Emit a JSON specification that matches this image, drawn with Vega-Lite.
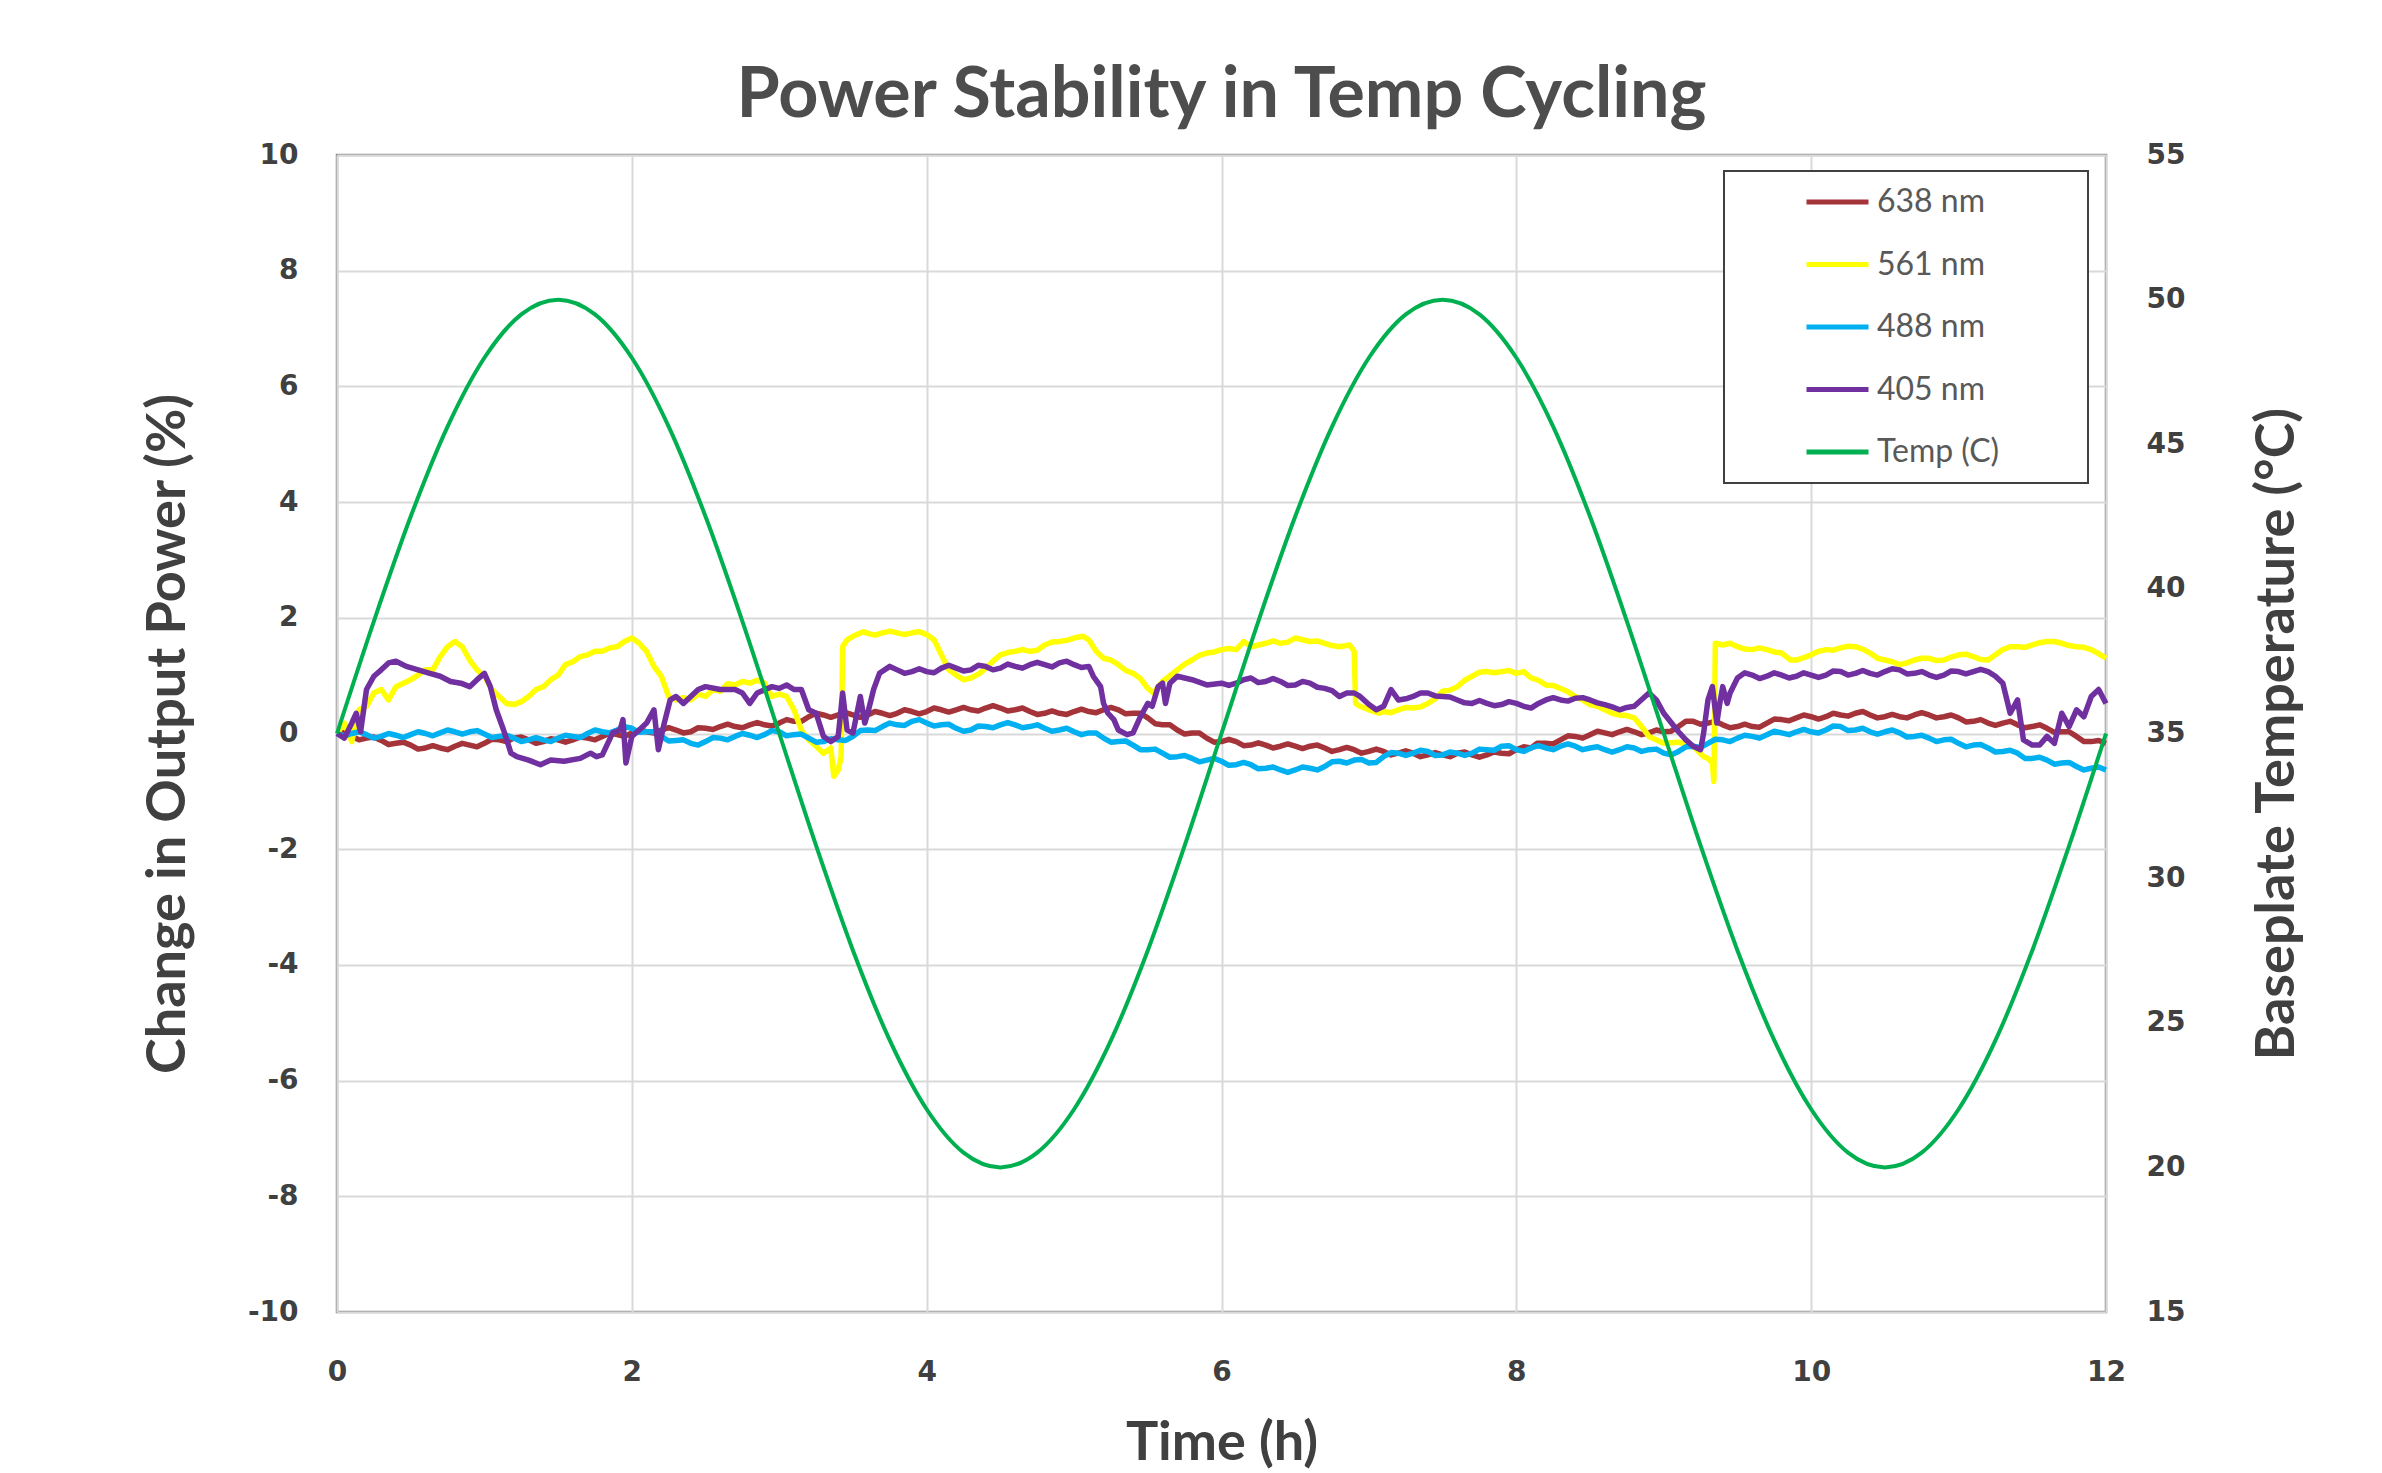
{
"$schema": "https://vega.github.io/schema/vega-lite/v6.json",
"width": 1769, "height": 1157,
"autosize": {"type": "none"},
"padding": {"left": 337, "top": 155, "right": 276, "bottom": 161},
"background": "white",
"title": {"text": "Power Stability in Temp Cycling", "font": "Lato", "fontSize": 70, "fontWeight": "bold", "color": "#4d4d4d", "anchor": "middle", "offset": 9},
"datasets": {
"r638": [{"t":0,"v":0},{"t":0.1,"v":-0.05},{"t":0.2,"v":-0.08},{"t":0.3,"v":-0.12},{"t":0.4,"v":-0.17},{"t":0.5,"v":-0.2},{"t":0.6,"v":-0.25},{"t":0.7,"v":-0.25},{"t":0.8,"v":-0.22},{"t":0.9,"v":-0.2},{"t":1,"v":-0.17},{"t":1.1,"v":-0.11},{"t":1.2,"v":-0.08},{"t":1.3,"v":-0.11},{"t":1.4,"v":-0.14},{"t":1.5,"v":-0.11},{"t":1.6,"v":-0.11},{"t":1.7,"v":-0.08},{"t":1.8,"v":-0.05},{"t":1.9,"v":-0.02},{"t":2,"v":0.01},{"t":2.1,"v":0.03},{"t":2.2,"v":0.06},{"t":2.3,"v":0.06},{"t":2.4,"v":0.03},{"t":2.5,"v":0.09},{"t":2.6,"v":0.12},{"t":2.7,"v":0.12},{"t":2.8,"v":0.15},{"t":2.9,"v":0.15},{"t":3,"v":0.18},{"t":3.1,"v":0.21},{"t":3.2,"v":0.29},{"t":3.3,"v":0.32},{"t":3.4,"v":0.32},{"t":3.5,"v":0.32},{"t":3.6,"v":0.32},{"t":3.7,"v":0.35},{"t":3.8,"v":0.35},{"t":3.9,"v":0.38},{"t":4,"v":0.38},{"t":4.1,"v":0.41},{"t":4.2,"v":0.41},{"t":4.3,"v":0.41},{"t":4.4,"v":0.44},{"t":4.5,"v":0.44},{"t":4.6,"v":0.41},{"t":4.7,"v":0.38},{"t":4.8,"v":0.35},{"t":4.9,"v":0.35},{"t":5,"v":0.38},{"t":5.1,"v":0.38},{"t":5.2,"v":0.41},{"t":5.3,"v":0.41},{"t":5.4,"v":0.35},{"t":5.5,"v":0.27},{"t":5.6,"v":0.15},{"t":5.7,"v":0.06},{"t":5.8,"v":0.01},{"t":5.9,"v":-0.08},{"t":6,"v":-0.14},{"t":6.1,"v":-0.14},{"t":6.2,"v":-0.2},{"t":6.3,"v":-0.2},{"t":6.4,"v":-0.22},{"t":6.5,"v":-0.22},{"t":6.6,"v":-0.22},{"t":6.7,"v":-0.25},{"t":6.8,"v":-0.28},{"t":6.9,"v":-0.28},{"t":7,"v":-0.31},{"t":7.1,"v":-0.31},{"t":7.2,"v":-0.34},{"t":7.3,"v":-0.34},{"t":7.4,"v":-0.37},{"t":7.5,"v":-0.37},{"t":7.6,"v":-0.34},{"t":7.7,"v":-0.37},{"t":7.8,"v":-0.37},{"t":7.9,"v":-0.34},{"t":8,"v":-0.28},{"t":8.1,"v":-0.25},{"t":8.14,"v":-0.17},{"t":8.2,"v":-0.17},{"t":8.3,"v":-0.11},{"t":8.4,"v":-0.05},{"t":8.5,"v":-0.02},{"t":8.6,"v":0.01},{"t":8.7,"v":0.03},{"t":8.8,"v":0.03},{"t":8.9,"v":0.01},{"t":9,"v":0.03},{"t":9.1,"v":0.12},{"t":9.2,"v":0.21},{"t":9.3,"v":0.18},{"t":9.4,"v":0.15},{"t":9.5,"v":0.12},{"t":9.6,"v":0.12},{"t":9.7,"v":0.18},{"t":9.8,"v":0.24},{"t":9.9,"v":0.27},{"t":10,"v":0.29},{"t":10.1,"v":0.29},{"t":10.2,"v":0.32},{"t":10.3,"v":0.35},{"t":10.4,"v":0.32},{"t":10.5,"v":0.29},{"t":10.6,"v":0.29},{"t":10.7,"v":0.32},{"t":10.8,"v":0.32},{"t":10.9,"v":0.29},{"t":11,"v":0.27},{"t":11.1,"v":0.21},{"t":11.2,"v":0.18},{"t":11.3,"v":0.18},{"t":11.4,"v":0.15},{"t":11.5,"v":0.12},{"t":11.6,"v":0.09},{"t":11.7,"v":0.03},{"t":11.8,"v":-0.05},{"t":11.9,"v":-0.14},{"t":12,"v":-0.17},
{"t":0.05,"v":0.02},{"t":0.15,"v":-0.11},{"t":0.25,"v":-0.06},{"t":0.35,"v":-0.19},{"t":0.45,"v":-0.15},{"t":0.55,"v":-0.27},{"t":0.65,"v":-0.21},{"t":0.75,"v":-0.28},{"t":0.85,"v":-0.17},{"t":0.95,"v":-0.23},{"t":1.05,"v":-0.1},{"t":1.15,"v":-0.14},{"t":1.25,"v":-0.06},{"t":1.35,"v":-0.17},{"t":1.45,"v":-0.09},{"t":1.55,"v":-0.15},{"t":1.65,"v":-0.06},{"t":1.75,"v":-0.11},{"t":1.85,"v":0.01},{"t":1.95,"v":-0.05},{"t":2.05,"v":0.06},{"t":2.15,"v":0.01},{"t":2.25,"v":0.1},{"t":2.35,"v":0.01},{"t":2.45,"v":0.1},{"t":2.55,"v":0.07},{"t":2.65,"v":0.16},{"t":2.75,"v":0.1},{"t":2.85,"v":0.19},{"t":2.95,"v":0.13},{"t":3.05,"v":0.24},{"t":3.15,"v":0.21},{"t":3.25,"v":0.35},{"t":3.35,"v":0.28},{"t":3.45,"v":0.36},{"t":3.55,"v":0.28},{"t":3.65,"v":0.38},{"t":3.75,"v":0.31},{"t":3.85,"v":0.41},{"t":3.95,"v":0.34},{"t":4.05,"v":0.44},{"t":4.15,"v":0.37},{"t":4.25,"v":0.45},{"t":4.35,"v":0.39},{"t":4.45,"v":0.48},{"t":4.55,"v":0.39},{"t":4.65,"v":0.44},{"t":4.75,"v":0.33},{"t":4.85,"v":0.39},{"t":4.95,"v":0.33},{"t":5.05,"v":0.42},{"t":5.15,"v":0.36},{"t":5.25,"v":0.45},{"t":5.35,"v":0.34},{"t":5.45,"v":0.35},{"t":5.55,"v":0.17},{"t":5.65,"v":0.15},{"t":5.75,"v":-0.01},{"t":5.85,"v":0.01},{"t":5.95,"v":-0.15},{"t":6.05,"v":-0.1},{"t":6.15,"v":-0.21},{"t":6.25,"v":-0.16},{"t":6.35,"v":-0.25},{"t":6.45,"v":-0.18},{"t":6.55,"v":-0.26},{"t":6.65,"v":-0.2},{"t":6.75,"v":-0.31},{"t":6.85,"v":-0.24},{"t":6.95,"v":-0.34},{"t":7.05,"v":-0.27},{"t":7.15,"v":-0.37},{"t":7.25,"v":-0.3},{"t":7.35,"v":-0.4},{"t":7.45,"v":-0.33},{"t":7.55,"v":-0.4},{"t":7.65,"v":-0.32},{"t":7.75,"v":-0.41},{"t":7.85,"v":-0.32},{"t":7.95,"v":-0.35},{"t":8.05,"v":-0.23},{"t":8.25,"v":-0.18},{"t":8.35,"v":-0.04},{"t":8.45,"v":-0.08},{"t":8.55,"v":0.04},{"t":8.65,"v":-0.02},{"t":8.75,"v":0.07},{"t":8.85,"v":-0.02},{"t":8.95,"v":0.06},{"t":9.05,"v":0.04},{"t":9.15,"v":0.21},{"t":9.25,"v":0.16},{"t":9.35,"v":0.21},{"t":9.45,"v":0.1},{"t":9.55,"v":0.16},{"t":9.65,"v":0.11},{"t":9.75,"v":0.25},{"t":9.85,"v":0.22},{"t":9.95,"v":0.32},{"t":10.05,"v":0.25},{"t":10.15,"v":0.35},{"t":10.25,"v":0.3},{"t":10.35,"v":0.38},{"t":10.45,"v":0.27},{"t":10.55,"v":0.33},{"t":10.65,"v":0.27},{"t":10.75,"v":0.36},{"t":10.85,"v":0.27},{"t":10.95,"v":0.32},{"t":11.05,"v":0.2},{"t":11.15,"v":0.24},{"t":11.25,"v":0.14},{"t":11.35,"v":0.21},{"t":11.45,"v":0.1},{"t":11.55,"v":0.15},{"t":11.65,"v":0.02},{"t":11.75,"v":0.03},{"t":11.85,"v":-0.14},{"t":11.95,"v":-0.12}],
"y561": [{"t":0,"v":0},{"t":0.05,"v":0.18},{"t":0.1,"v":-0.14},{"t":0.15,"v":0.41},{"t":0.2,"v":0.47},{"t":0.25,"v":0.7},{"t":0.3,"v":0.76},{"t":0.35,"v":0.58},{"t":0.4,"v":0.81},{"t":0.45,"v":0.87},{"t":0.5,"v":0.93},{"t":0.55,"v":1.01},{"t":0.6,"v":1.1},{"t":0.65,"v":1.1},{"t":0.7,"v":1.33},{"t":0.75,"v":1.5},{"t":0.8,"v":1.59},{"t":0.85,"v":1.5},{"t":0.9,"v":1.27},{"t":0.95,"v":1.1},{"t":1,"v":0.99},{"t":1.05,"v":0.76},{"t":1.1,"v":0.64},{"t":1.15,"v":0.52},{"t":1.2,"v":0.5},{"t":1.25,"v":0.55},{"t":1.3,"v":0.64},{"t":1.35,"v":0.76},{"t":1.4,"v":0.81},{"t":1.45,"v":0.93},{"t":1.5,"v":1.01},{"t":1.55,"v":1.19},{"t":1.6,"v":1.24},{"t":1.65,"v":1.33},{"t":1.7,"v":1.36},{"t":1.75,"v":1.42},{"t":1.8,"v":1.42},{"t":1.85,"v":1.48},{"t":1.9,"v":1.5},{"t":1.95,"v":1.59},{"t":2,"v":1.65},{"t":2.05,"v":1.56},{"t":2.1,"v":1.42},{"t":2.15,"v":1.16},{"t":2.2,"v":0.99},{"t":2.25,"v":0.64},{"t":2.3,"v":0.58},{"t":2.35,"v":0.62},{"t":2.4,"v":0.58},{"t":2.45,"v":0.68},{"t":2.5,"v":0.64},{"t":2.55,"v":0.76},{"t":2.6,"v":0.73},{"t":2.65,"v":0.86},{"t":2.7,"v":0.84},{"t":2.75,"v":0.9},{"t":2.8,"v":0.87},{"t":2.85,"v":0.92},{"t":2.9,"v":0.87},{"t":2.95,"v":0.64},{"t":3,"v":0.68},{"t":3.05,"v":0.64},{"t":3.1,"v":0.41},{"t":3.15,"v":0.06},{"t":3.2,"v":-0.11},{"t":3.25,"v":-0.22},{"t":3.3,"v":-0.34},{"t":3.35,"v":-0.25},{"t":3.37,"v":-0.74},{"t":3.4,"v":-0.63},{"t":3.42,"v":-0.4},{"t":3.43,"v":1.5},{"t":3.46,"v":1.62},{"t":3.5,"v":1.68},{"t":3.57,"v":1.76},{"t":3.6,"v":1.73},{"t":3.65,"v":1.7},{"t":3.7,"v":1.74},{"t":3.75,"v":1.77},{"t":3.8,"v":1.74},{"t":3.85,"v":1.71},{"t":3.9,"v":1.74},{"t":3.95,"v":1.76},{"t":4,"v":1.71},{"t":4.05,"v":1.62},{"t":4.1,"v":1.36},{"t":4.15,"v":1.1},{"t":4.2,"v":1.01},{"t":4.25,"v":0.93},{"t":4.3,"v":0.96},{"t":4.36,"v":1.04},{"t":4.4,"v":1.13},{"t":4.45,"v":1.25},{"t":4.5,"v":1.36},{"t":4.55,"v":1.4},{"t":4.6,"v":1.42},{"t":4.65,"v":1.45},{"t":4.7,"v":1.42},{"t":4.75,"v":1.44},{"t":4.8,"v":1.53},{"t":4.85,"v":1.58},{"t":4.9,"v":1.59},{"t":4.95,"v":1.61},{"t":5,"v":1.65},{"t":5.06,"v":1.68},{"t":5.1,"v":1.62},{"t":5.15,"v":1.42},{"t":5.2,"v":1.3},{"t":5.25,"v":1.27},{"t":5.3,"v":1.19},{"t":5.35,"v":1.09},{"t":5.4,"v":1.04},{"t":5.45,"v":0.95},{"t":5.5,"v":0.78},{"t":5.54,"v":0.7},{"t":5.6,"v":0.9},{"t":5.65,"v":1.0},{"t":5.7,"v":1.1},{"t":5.75,"v":1.2},{"t":5.8,"v":1.27},{"t":5.85,"v":1.35},{"t":5.9,"v":1.39},{"t":5.95,"v":1.41},{"t":6,"v":1.45},{"t":6.05,"v":1.47},{"t":6.1,"v":1.45},{"t":6.15,"v":1.59},{"t":6.2,"v":1.5},{"t":6.25,"v":1.53},{"t":6.3,"v":1.56},{"t":6.35,"v":1.6},{"t":6.4,"v":1.56},{"t":6.45,"v":1.58},{"t":6.5,"v":1.65},{"t":6.55,"v":1.62},{"t":6.6,"v":1.59},{"t":6.65,"v":1.6},{"t":6.7,"v":1.56},{"t":6.75,"v":1.52},{"t":6.8,"v":1.5},{"t":6.87,"v":1.53},{"t":6.9,"v":1.42},{"t":6.91,"v":0.52},{"t":6.94,"v":0.47},{"t":7,"v":0.41},{"t":7.07,"v":0.35},{"t":7.1,"v":0.38},{"t":7.15,"v":0.36},{"t":7.2,"v":0.41},{"t":7.25,"v":0.45},{"t":7.3,"v":0.44},{"t":7.35,"v":0.46},{"t":7.4,"v":0.52},{"t":7.45,"v":0.6},{"t":7.5,"v":0.73},{"t":7.55,"v":0.75},{"t":7.6,"v":0.81},{"t":7.65,"v":0.92},{"t":7.7,"v":0.99},{"t":7.75,"v":1.06},{"t":7.8,"v":1.07},{"t":7.85,"v":1.05},{"t":7.9,"v":1.07},{"t":7.95,"v":1.09},{"t":8,"v":1.04},{"t":8.05,"v":1.07},{"t":8.1,"v":0.96},{"t":8.15,"v":0.92},{"t":8.2,"v":0.84},{"t":8.25,"v":0.83},{"t":8.3,"v":0.78},{"t":8.35,"v":0.72},{"t":8.4,"v":0.64},{"t":8.45,"v":0.58},{"t":8.5,"v":0.5},{"t":8.55,"v":0.47},{"t":8.6,"v":0.41},{"t":8.65,"v":0.35},{"t":8.7,"v":0.32},{"t":8.75,"v":0.31},{"t":8.8,"v":0.27},{"t":8.85,"v":0.12},{"t":8.9,"v":-0.05},{"t":9,"v":-0.17},{"t":9.1,"v":-0.15},{"t":9.2,"v":-0.22},{"t":9.27,"v":-0.4},{"t":9.3,"v":-0.43},{"t":9.33,"v":-0.51},{"t":9.34,"v":-0.83},{"t":9.35,"v":1.56},{"t":9.4,"v":1.53},{"t":9.45,"v":1.56},{"t":9.5,"v":1.5},{"t":9.55,"v":1.46},{"t":9.6,"v":1.45},{"t":9.65,"v":1.48},{"t":9.7,"v":1.45},{"t":9.75,"v":1.41},{"t":9.8,"v":1.39},{"t":9.86,"v":1.27},{"t":9.9,"v":1.27},{"t":9.95,"v":1.31},{"t":10,"v":1.36},{"t":10.05,"v":1.42},{"t":10.1,"v":1.45},{"t":10.15,"v":1.44},{"t":10.2,"v":1.48},{"t":10.25,"v":1.51},{"t":10.3,"v":1.5},{"t":10.35,"v":1.46},{"t":10.4,"v":1.39},{"t":10.45,"v":1.3},{"t":10.5,"v":1.27},{"t":10.55,"v":1.24},{"t":10.6,"v":1.19},{"t":10.65,"v":1.22},{"t":10.7,"v":1.27},{"t":10.75,"v":1.3},{"t":10.8,"v":1.3},{"t":10.85,"v":1.26},{"t":10.9,"v":1.27},{"t":10.95,"v":1.32},{"t":11,"v":1.36},{"t":11.05,"v":1.37},{"t":11.1,"v":1.33},{"t":11.15,"v":1.28},{"t":11.2,"v":1.27},{"t":11.25,"v":1.36},{"t":11.3,"v":1.45},{"t":11.35,"v":1.5},{"t":11.4,"v":1.5},{"t":11.45,"v":1.49},{"t":11.5,"v":1.53},{"t":11.55,"v":1.57},{"t":11.6,"v":1.59},{"t":11.65,"v":1.59},{"t":11.7,"v":1.56},{"t":11.75,"v":1.52},{"t":11.8,"v":1.5},{"t":11.85,"v":1.49},{"t":11.9,"v":1.45},{"t":11.95,"v":1.38},{"t":12,"v":1.3}],
"b488": [{"t":0,"v":0},{"t":0.1,"v":0},{"t":0.2,"v":-0.02},{"t":0.3,"v":-0.05},{"t":0.4,"v":-0.03},{"t":0.5,"v":-0.02},{"t":0.6,"v":0},{"t":0.7,"v":0.01},{"t":0.8,"v":0.03},{"t":0.9,"v":0.03},{"t":1,"v":-0.01},{"t":1.1,"v":-0.05},{"t":1.2,"v":-0.08},{"t":1.3,"v":-0.11},{"t":1.4,"v":-0.11},{"t":1.5,"v":-0.08},{"t":1.6,"v":-0.05},{"t":1.7,"v":0},{"t":1.8,"v":0.03},{"t":1.9,"v":0.06},{"t":2,"v":0.09},{"t":2.1,"v":0.03},{"t":2.2,"v":-0.05},{"t":2.3,"v":-0.12},{"t":2.4,"v":-0.17},{"t":2.5,"v":-0.14},{"t":2.6,"v":-0.08},{"t":2.7,"v":-0.05},{"t":2.8,"v":-0.03},{"t":2.9,"v":-0.02},{"t":3,"v":0.03},{"t":3.1,"v":-0.02},{"t":3.2,"v":-0.08},{"t":3.3,"v":-0.14},{"t":3.4,"v":-0.11},{"t":3.5,"v":-0.05},{"t":3.6,"v":0.06},{"t":3.7,"v":0.12},{"t":3.8,"v":0.15},{"t":3.9,"v":0.21},{"t":4,"v":0.18},{"t":4.1,"v":0.15},{"t":4.2,"v":0.09},{"t":4.3,"v":0.06},{"t":4.4,"v":0.12},{"t":4.5,"v":0.15},{"t":4.6,"v":0.15},{"t":4.7,"v":0.12},{"t":4.8,"v":0.09},{"t":4.9,"v":0.06},{"t":5,"v":0.03},{"t":5.1,"v":0.01},{"t":5.2,"v":-0.08},{"t":5.3,"v":-0.14},{"t":5.4,"v":-0.2},{"t":5.5,"v":-0.28},{"t":5.6,"v":-0.34},{"t":5.7,"v":-0.4},{"t":5.8,"v":-0.43},{"t":5.9,"v":-0.46},{"t":6,"v":-0.48},{"t":6.1,"v":-0.54},{"t":6.2,"v":-0.54},{"t":6.3,"v":-0.6},{"t":6.4,"v":-0.63},{"t":6.5,"v":-0.63},{"t":6.6,"v":-0.6},{"t":6.7,"v":-0.57},{"t":6.8,"v":-0.48},{"t":6.9,"v":-0.46},{"t":7,"v":-0.51},{"t":7.1,"v":-0.4},{"t":7.2,"v":-0.34},{"t":7.3,"v":-0.34},{"t":7.4,"v":-0.31},{"t":7.5,"v":-0.37},{"t":7.6,"v":-0.34},{"t":7.7,"v":-0.34},{"t":7.8,"v":-0.28},{"t":7.9,"v":-0.22},{"t":8,"v":-0.28},{"t":8.1,"v":-0.25},{"t":8.2,"v":-0.25},{"t":8.3,"v":-0.22},{"t":8.4,"v":-0.22},{"t":8.5,"v":-0.25},{"t":8.6,"v":-0.28},{"t":8.7,"v":-0.28},{"t":8.8,"v":-0.25},{"t":8.9,"v":-0.28},{"t":9,"v":-0.34},{"t":9.1,"v":-0.31},{"t":9.2,"v":-0.22},{"t":9.3,"v":-0.17},{"t":9.4,"v":-0.11},{"t":9.5,"v":-0.08},{"t":9.6,"v":-0.05},{"t":9.7,"v":-0.02},{"t":9.8,"v":0.01},{"t":9.9,"v":0.03},{"t":10,"v":0.03},{"t":10.1,"v":0.06},{"t":10.2,"v":0.12},{"t":10.3,"v":0.06},{"t":10.4,"v":0.03},{"t":10.5,"v":0.03},{"t":10.6,"v":0.01},{"t":10.7,"v":-0.05},{"t":10.8,"v":-0.08},{"t":10.9,"v":-0.11},{"t":11,"v":-0.17},{"t":11.1,"v":-0.2},{"t":11.2,"v":-0.25},{"t":11.3,"v":-0.31},{"t":11.4,"v":-0.34},{"t":11.5,"v":-0.43},{"t":11.6,"v":-0.46},{"t":11.7,"v":-0.51},{"t":11.8,"v":-0.57},{"t":11.9,"v":-0.6},{"t":12,"v":-0.63},
{"t":0.05,"v":-0.04},{"t":0.15,"v":0.03},{"t":0.25,"v":-0.08},{"t":0.35,"v":0},{"t":0.45,"v":-0.07},{"t":0.55,"v":0.03},{"t":0.65,"v":-0.04},{"t":0.75,"v":0.06},{"t":0.85,"v":-0.01},{"t":0.95,"v":0.05},{"t":1.05,"v":-0.07},{"t":1.15,"v":-0.03},{"t":1.25,"v":-0.14},{"t":1.35,"v":-0.07},{"t":1.45,"v":-0.14},{"t":1.55,"v":-0.03},{"t":1.65,"v":-0.07},{"t":1.75,"v":0.06},{"t":1.85,"v":0.01},{"t":1.95,"v":0.12},{"t":2.05,"v":0.02},{"t":2.15,"v":0.03},{"t":2.25,"v":-0.13},{"t":2.35,"v":-0.11},{"t":2.45,"v":-0.2},{"t":2.55,"v":-0.07},{"t":2.65,"v":-0.11},{"t":2.75,"v":0},{"t":2.85,"v":-0.07},{"t":2.95,"v":0.05},{"t":3.05,"v":-0.04},{"t":3.15,"v":-0.01},{"t":3.25,"v":-0.15},{"t":3.35,"v":-0.09},{"t":3.45,"v":-0.12},{"t":3.55,"v":0.05},{"t":3.65,"v":0.05},{"t":3.75,"v":0.18},{"t":3.85,"v":0.14},{"t":3.95,"v":0.24},{"t":4.05,"v":0.13},{"t":4.15,"v":0.16},{"t":4.25,"v":0.04},{"t":4.35,"v":0.13},{"t":4.45,"v":0.1},{"t":4.55,"v":0.19},{"t":4.65,"v":0.1},{"t":4.75,"v":0.15},{"t":4.85,"v":0.04},{"t":4.95,"v":0.09},{"t":5.05,"v":-0.02},{"t":5.15,"v":0.01},{"t":5.25,"v":-0.15},{"t":5.35,"v":-0.13},{"t":5.45,"v":-0.28},{"t":5.55,"v":-0.27},{"t":5.65,"v":-0.41},{"t":5.75,"v":-0.38},{"t":5.85,"v":-0.49},{"t":5.95,"v":-0.43},{"t":6.05,"v":-0.55},{"t":6.15,"v":-0.5},{"t":6.25,"v":-0.61},{"t":6.35,"v":-0.58},{"t":6.45,"v":-0.67},{"t":6.55,"v":-0.58},{"t":6.65,"v":-0.63},{"t":6.75,"v":-0.49},{"t":6.85,"v":-0.51},{"t":6.95,"v":-0.45},{"t":7.05,"v":-0.5},{"t":7.15,"v":-0.33},{"t":7.25,"v":-0.38},{"t":7.35,"v":-0.29},{"t":7.45,"v":-0.38},{"t":7.55,"v":-0.32},{"t":7.65,"v":-0.38},{"t":7.75,"v":-0.27},{"t":7.85,"v":-0.29},{"t":7.95,"v":-0.21},{"t":8.05,"v":-0.31},{"t":8.15,"v":-0.21},{"t":8.25,"v":-0.28},{"t":8.35,"v":-0.18},{"t":8.45,"v":-0.28},{"t":8.55,"v":-0.23},{"t":8.65,"v":-0.32},{"t":8.75,"v":-0.23},{"t":8.85,"v":-0.31},{"t":8.95,"v":-0.27},{"t":9.05,"v":-0.37},{"t":9.15,"v":-0.23},{"t":9.25,"v":-0.24},{"t":9.35,"v":-0.1},{"t":9.45,"v":-0.14},{"t":9.55,"v":-0.03},{"t":9.65,"v":-0.08},{"t":9.75,"v":0.04},{"t":9.85,"v":-0.02},{"t":9.95,"v":0.07},{"t":10.05,"v":0.01},{"t":10.15,"v":0.13},{"t":10.25,"v":0.05},{"t":10.35,"v":0.09},{"t":10.45,"v":-0.01},{"t":10.55,"v":0.06},{"t":10.65,"v":-0.06},{"t":10.75,"v":-0.03},{"t":10.85,"v":-0.14},{"t":10.95,"v":-0.1},{"t":11.05,"v":-0.23},{"t":11.15,"v":-0.19},{"t":11.25,"v":-0.32},{"t":11.35,"v":-0.29},{"t":11.45,"v":-0.43},{"t":11.55,"v":-0.41},{"t":11.65,"v":-0.53},{"t":11.75,"v":-0.5},{"t":11.85,"v":-0.63},{"t":11.95,"v":-0.58}],
"p405": [{"t":0,"v":0},{"t":0.05,"v":-0.08},{"t":0.1,"v":0.18},{"t":0.13,"v":0.35},{"t":0.16,"v":0.03},{"t":0.2,"v":0.76},{"t":0.25,"v":0.99},{"t":0.3,"v":1.1},{"t":0.35,"v":1.22},{"t":0.4,"v":1.25},{"t":0.47,"v":1.16},{"t":0.55,"v":1.1},{"t":0.63,"v":1.04},{"t":0.7,"v":0.99},{"t":0.77,"v":0.9},{"t":0.84,"v":0.87},{"t":0.9,"v":0.81},{"t":0.95,"v":0.93},{"t":1,"v":1.04},{"t":1.04,"v":0.81},{"t":1.08,"v":0.41},{"t":1.13,"v":0.06},{"t":1.18,"v":-0.34},{"t":1.22,"v":-0.4},{"t":1.3,"v":-0.46},{"t":1.38,"v":-0.54},{"t":1.45,"v":-0.46},{"t":1.54,"v":-0.48},{"t":1.65,"v":-0.43},{"t":1.72,"v":-0.34},{"t":1.76,"v":-0.4},{"t":1.8,"v":-0.37},{"t":1.87,"v":0.01},{"t":1.92,"v":0.06},{"t":1.94,"v":0.24},{"t":1.96,"v":-0.51},{"t":2,"v":-0.05},{"t":2.05,"v":0.06},{"t":2.1,"v":0.18},{"t":2.15,"v":0.41},{"t":2.18,"v":-0.28},{"t":2.22,"v":0.18},{"t":2.26,"v":0.58},{"t":2.3,"v":0.64},{"t":2.35,"v":0.52},{"t":2.4,"v":0.64},{"t":2.45,"v":0.76},{"t":2.5,"v":0.81},{"t":2.6,"v":0.76},{"t":2.7,"v":0.76},{"t":2.75,"v":0.7},{"t":2.8,"v":0.52},{"t":2.85,"v":0.7},{"t":2.95,"v":0.81},{"t":3,"v":0.78},{"t":3.05,"v":0.84},{"t":3.1,"v":0.76},{"t":3.15,"v":0.76},{"t":3.2,"v":0.41},{"t":3.25,"v":0.35},{"t":3.3,"v":-0.05},{"t":3.35,"v":-0.14},{"t":3.4,"v":-0.05},{"t":3.43,"v":0.7},{"t":3.46,"v":0.06},{"t":3.5,"v":0.01},{"t":3.55,"v":0.64},{"t":3.58,"v":0.18},{"t":3.6,"v":0.35},{"t":3.64,"v":0.76},{"t":3.68,"v":1.04},{"t":3.75,"v":1.16},{"t":3.8,"v":1.1},{"t":3.85,"v":1.04},{"t":3.9,"v":1.07},{"t":3.95,"v":1.12},{"t":4,"v":1.07},{"t":4.05,"v":1.05},{"t":4.1,"v":1.13},{"t":4.15,"v":1.18},{"t":4.2,"v":1.13},{"t":4.25,"v":1.08},{"t":4.3,"v":1.1},{"t":4.35,"v":1.18},{"t":4.4,"v":1.16},{"t":4.45,"v":1.1},{"t":4.5,"v":1.13},{"t":4.55,"v":1.2},{"t":4.6,"v":1.16},{"t":4.65,"v":1.13},{"t":4.7,"v":1.19},{"t":4.75,"v":1.23},{"t":4.8,"v":1.19},{"t":4.85,"v":1.15},{"t":4.9,"v":1.22},{"t":4.95,"v":1.25},{"t":5,"v":1.19},{"t":5.05,"v":1.14},{"t":5.1,"v":1.16},{"t":5.13,"v":0.99},{"t":5.18,"v":0.81},{"t":5.2,"v":0.52},{"t":5.23,"v":0.35},{"t":5.27,"v":0.24},{"t":5.3,"v":0.06},{"t":5.36,"v":-0.02},{"t":5.4,"v":0.01},{"t":5.45,"v":0.29},{"t":5.5,"v":0.52},{"t":5.53,"v":0.47},{"t":5.57,"v":0.81},{"t":5.6,"v":0.87},{"t":5.62,"v":0.52},{"t":5.65,"v":0.87},{"t":5.7,"v":0.99},{"t":5.8,"v":0.93},{"t":5.9,"v":0.84},{"t":6,"v":0.87},{"t":6.05,"v":0.83},{"t":6.1,"v":0.87},{"t":6.15,"v":0.93},{"t":6.2,"v":0.96},{"t":6.25,"v":0.88},{"t":6.3,"v":0.9},{"t":6.35,"v":0.95},{"t":6.4,"v":0.9},{"t":6.45,"v":0.83},{"t":6.5,"v":0.84},{"t":6.55,"v":0.9},{"t":6.6,"v":0.87},{"t":6.65,"v":0.8},{"t":6.7,"v":0.78},{"t":6.75,"v":0.74},{"t":6.8,"v":0.64},{"t":6.85,"v":0.7},{"t":6.9,"v":0.7},{"t":6.94,"v":0.64},{"t":7,"v":0.5},{"t":7.05,"v":0.41},{"t":7.1,"v":0.47},{"t":7.15,"v":0.76},{"t":7.2,"v":0.58},{"t":7.25,"v":0.6},{"t":7.3,"v":0.64},{"t":7.35,"v":0.7},{"t":7.4,"v":0.7},{"t":7.45,"v":0.65},{"t":7.5,"v":0.64},{"t":7.55,"v":0.63},{"t":7.6,"v":0.58},{"t":7.65,"v":0.53},{"t":7.7,"v":0.52},{"t":7.75,"v":0.57},{"t":7.8,"v":0.52},{"t":7.85,"v":0.48},{"t":7.9,"v":0.5},{"t":7.95,"v":0.55},{"t":8,"v":0.52},{"t":8.05,"v":0.47},{"t":8.1,"v":0.44},{"t":8.15,"v":0.52},{"t":8.2,"v":0.58},{"t":8.25,"v":0.62},{"t":8.3,"v":0.58},{"t":8.35,"v":0.56},{"t":8.4,"v":0.61},{"t":8.45,"v":0.62},{"t":8.5,"v":0.58},{"t":8.55,"v":0.53},{"t":8.6,"v":0.5},{"t":8.65,"v":0.46},{"t":8.7,"v":0.41},{"t":8.75,"v":0.45},{"t":8.8,"v":0.47},{"t":8.9,"v":0.7},{"t":8.95,"v":0.58},{"t":9,"v":0.35},{"t":9.1,"v":0.03},{"t":9.15,"v":-0.11},{"t":9.2,"v":-0.22},{"t":9.25,"v":-0.28},{"t":9.27,"v":0},{"t":9.3,"v":0.58},{"t":9.33,"v":0.81},{"t":9.36,"v":0.18},{"t":9.38,"v":0.52},{"t":9.4,"v":0.81},{"t":9.43,"v":0.52},{"t":9.45,"v":0.7},{"t":9.5,"v":0.96},{"t":9.55,"v":1.05},{"t":9.6,"v":1.01},{"t":9.65,"v":0.95},{"t":9.7,"v":0.99},{"t":9.75,"v":1.05},{"t":9.8,"v":1.01},{"t":9.85,"v":0.96},{"t":9.9,"v":0.99},{"t":9.95,"v":1.05},{"t":10,"v":1.01},{"t":10.05,"v":0.97},{"t":10.1,"v":1.01},{"t":10.15,"v":1.08},{"t":10.2,"v":1.07},{"t":10.25,"v":1.01},{"t":10.3,"v":1.04},{"t":10.35,"v":1.09},{"t":10.4,"v":1.04},{"t":10.45,"v":1.01},{"t":10.5,"v":1.07},{"t":10.55,"v":1.12},{"t":10.6,"v":1.1},{"t":10.65,"v":1.03},{"t":10.7,"v":1.04},{"t":10.75,"v":1.07},{"t":10.8,"v":1.01},{"t":10.85,"v":0.97},{"t":10.9,"v":1.01},{"t":10.95,"v":1.08},{"t":11,"v":1.07},{"t":11.05,"v":1.03},{"t":11.1,"v":1.07},{"t":11.15,"v":1.11},{"t":11.2,"v":1.07},{"t":11.25,"v":0.99},{"t":11.3,"v":0.87},{"t":11.35,"v":0.35},{"t":11.4,"v":0.58},{"t":11.44,"v":-0.11},{"t":11.5,"v":-0.2},{"t":11.55,"v":-0.2},{"t":11.6,"v":-0.05},{"t":11.65,"v":-0.17},{"t":11.7,"v":0.35},{"t":11.75,"v":0.12},{"t":11.8,"v":0.41},{"t":11.85,"v":0.29},{"t":11.9,"v":0.64},{"t":11.95,"v":0.76},{"t":12,"v":0.52}],
"temp": [{"t":0,"c":35},{"t":0.25,"c":38.88},{"t":0.5,"c":42.5},{"t":0.75,"c":45.61},{"t":1,"c":47.99},{"t":1.25,"c":49.49},{"t":1.5,"c":50},{"t":1.75,"c":49.49},{"t":2,"c":47.99},{"t":2.25,"c":45.61},{"t":2.5,"c":42.5},{"t":2.75,"c":38.88},{"t":3,"c":35},{"t":3.25,"c":31.12},{"t":3.5,"c":27.5},{"t":3.75,"c":24.39},{"t":4,"c":22.01},{"t":4.25,"c":20.51},{"t":4.5,"c":20},{"t":4.75,"c":20.51},{"t":5,"c":22.01},{"t":5.25,"c":24.39},{"t":5.5,"c":27.5},{"t":5.75,"c":31.12},{"t":6,"c":35},{"t":6.25,"c":38.88},{"t":6.5,"c":42.5},{"t":6.75,"c":45.61},{"t":7,"c":47.99},{"t":7.25,"c":49.49},{"t":7.5,"c":50},{"t":7.75,"c":49.49},{"t":8,"c":47.99},{"t":8.25,"c":45.61},{"t":8.5,"c":42.5},{"t":8.75,"c":38.88},{"t":9,"c":35},{"t":9.25,"c":31.12},{"t":9.5,"c":27.5},{"t":9.75,"c":24.39},{"t":10,"c":22.01},{"t":10.25,"c":20.51},{"t":10.5,"c":20},{"t":10.75,"c":20.51},{"t":11,"c":22.01},{"t":11.25,"c":24.39},{"t":11.5,"c":27.5},{"t":11.75,"c":31.12},{"t":12,"c":35}]
},
"layer": [
{
"encoding": {
"x": {"field": "t", "type": "quantitative", "scale": {"domain": [0, 12], "nice": false},
 "axis": {"values": [0,2,4,6,8,10,12], "labelExpr": "toString(datum.value)", "labelFlush": false, "title": "Time (h)", "grid": true, "labelPadding": 46, "titlePadding": 30}},
"y": {"field": "v", "type": "quantitative", "scale": {"domain": [-10, 10], "nice": false},
 "axis": {"orient": "left", "values": [-10,-8,-6,-4,-2,0,2,4,6,8,10], "labelExpr": "toString(datum.value)", "title": "Change in Output Power (%)", "grid": true, "labelPadding": 39, "titlePadding": 52}}
},
"layer": [
{"data": {"name": "r638"}, "mark": {"type": "line", "strokeWidth": 5.5, "strokeJoin": "round"}, "encoding": {"color": {"datum": "638 nm", "type": "nominal", "scale": {"domain": ["638 nm","561 nm","488 nm","405 nm","Temp (C)"], "range": ["#A5343A","#FFFF00","#00B0F0","#7030A0","#00B050"]},
 "legend": {"orient": "none", "legendX": 1387, "legendY": 16, "title": null, "labelLimit": 500, "labelExpr": "datum.label + '\u00a0\u00a0\u00a0\u00a0\u00a0\u00a0\u00a0\u00a0\u00a0\u200b'"}}}},
{"data": {"name": "y561"}, "mark": {"type": "line", "strokeWidth": 5.5, "strokeJoin": "round"}, "encoding": {"color": {"datum": "561 nm", "type": "nominal"}}},
{"data": {"name": "b488"}, "mark": {"type": "line", "strokeWidth": 5.5, "strokeJoin": "round"}, "encoding": {"color": {"datum": "488 nm", "type": "nominal"}}},
{"data": {"name": "p405"}, "mark": {"type": "line", "strokeWidth": 5.5, "strokeJoin": "round"}, "encoding": {"color": {"datum": "405 nm", "type": "nominal"}}}
]
},
{"data": {"name": "temp"}, "mark": {"type": "line", "strokeWidth": 4, "interpolate": "monotone"},
 "encoding": {
 "x": {"field": "t", "type": "quantitative"},
 "y": {"field": "c", "type": "quantitative", "scale": {"domain": [15, 55], "nice": false},
  "axis": {"orient": "right", "values": [15,20,25,30,35,40,45,50,55], "title": "Baseplate Temperature (°C)", "titleAngle": 270, "grid": false, "labelPadding": 40, "titlePadding": 120}},
 "color": {"datum": "Temp (C)", "type": "nominal"}}}
],
"resolve": {"scale": {"y": "independent"}},
"config": {
"view": {"stroke": "#8c8c8c", "strokeWidth": 2.5},
"axis": {"domain": false, "ticks": false, "tickSize": 0, "gridColor": "#d9d9d9", "gridWidth": 2,
 "labelFont": "DejaVu Sans", "labelFontSize": 28, "labelFontWeight": "bold", "labelColor": "#404040",
 "titleFont": "Lato", "titleFontSize": 54, "titleFontWeight": "bold", "titleColor": "#404040"},
"legend": {"symbolType": "stroke", "symbolSize": 3844, "symbolStrokeWidth": 5, "clipHeight": 32,
 "labelFont": "Lato", "labelFontSize": 32, "labelColor": "#595959", "labelOffset": 6,
 "padding": 15, "symbolOffset": 65, "rowPadding": 30.5, "strokeColor": "#404040", "strokeWidth": 2, "fillColor": "white"}
}
}
